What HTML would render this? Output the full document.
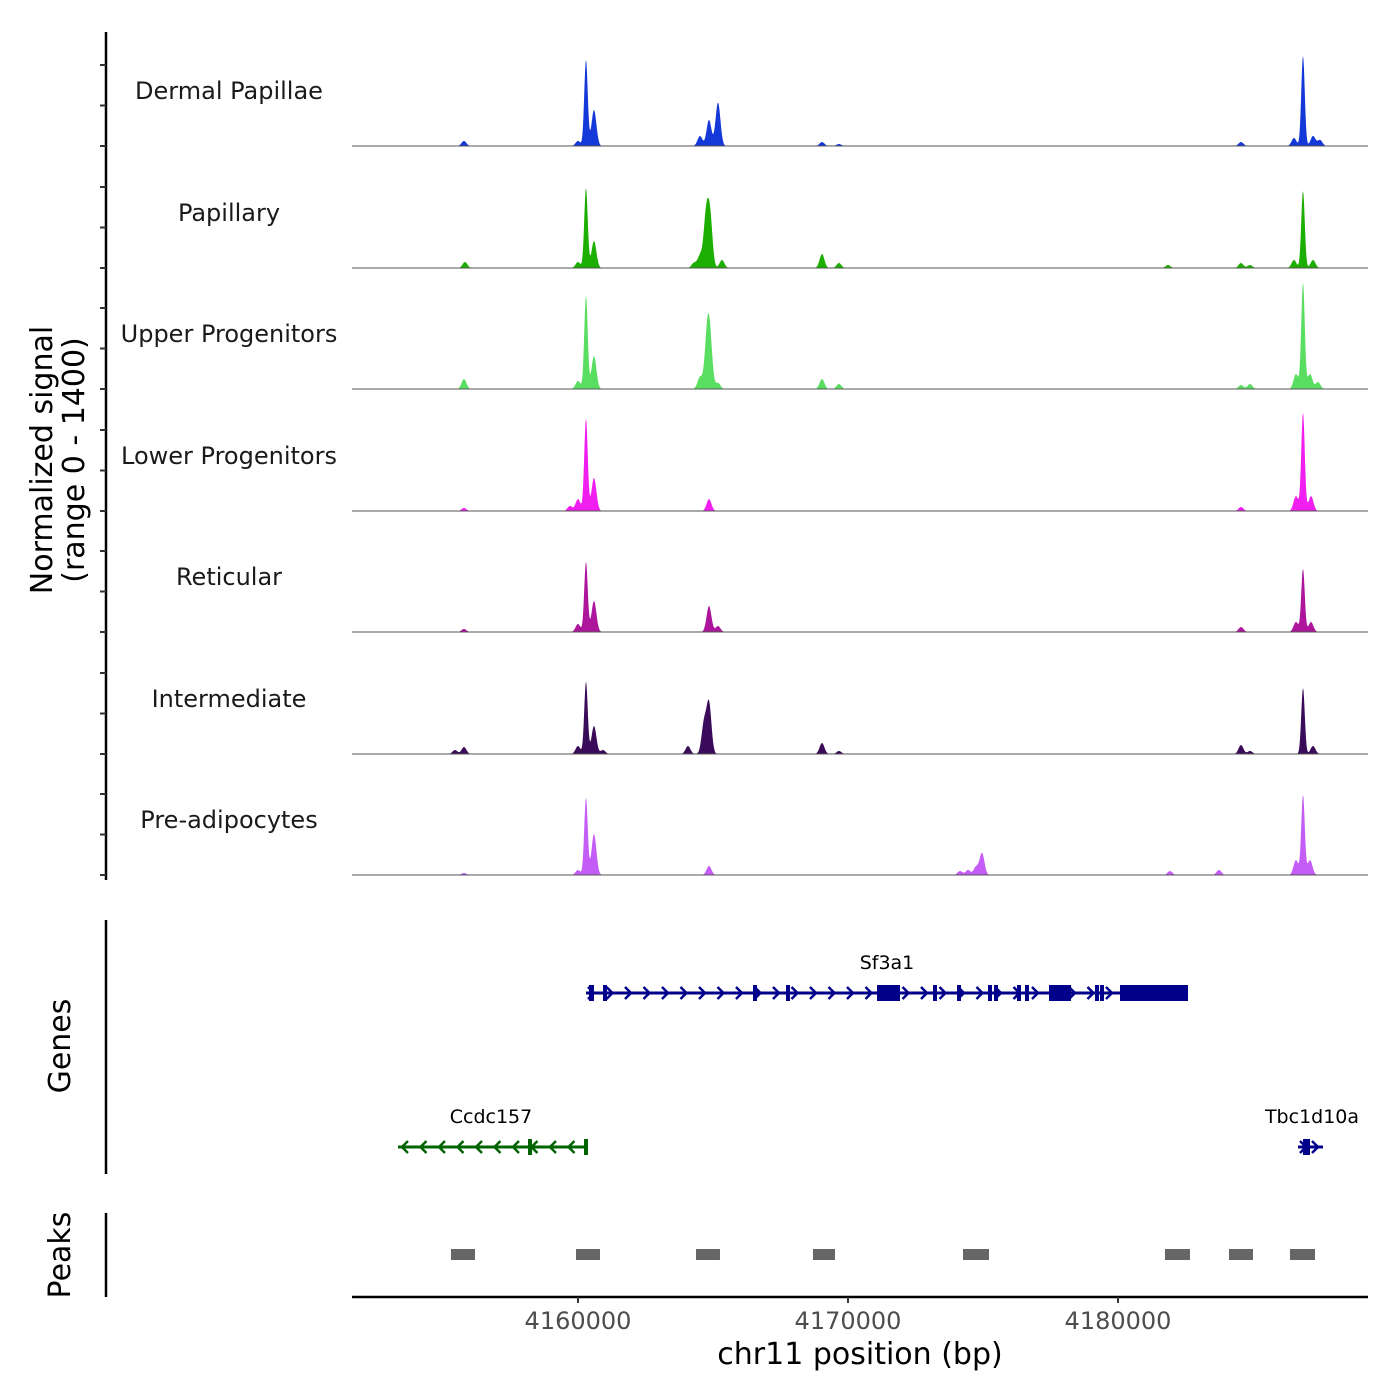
<!DOCTYPE html>
<html><head><meta charset="utf-8"><style>
html,body{margin:0;padding:0;background:#fff;}
svg{display:block;font-family:"DejaVu Sans","Liberation Sans",sans-serif;}
</style></head><body>
<svg id="c" width="1400" height="1400" xmlns="http://www.w3.org/2000/svg">
<g id="tracks"></g>
<g id="genes"></g>
<g id="peaks"></g>
<g id="axes"></g>
<text x="0" y="0" transform="translate(52,460) rotate(-90)" text-anchor="middle" font-size="30" fill="#000">Normalized signal</text>
<text x="0" y="0" transform="translate(84,460) rotate(-90)" text-anchor="middle" font-size="30" fill="#000">(range 0 - 1400)</text>
<text x="0" y="0" transform="translate(70,1046) rotate(-90)" text-anchor="middle" font-size="30" fill="#000">Genes</text>
<text x="0" y="0" transform="translate(70,1255) rotate(-90)" text-anchor="middle" font-size="30" fill="#000">Peaks</text>
<text x="860" y="1364" text-anchor="middle" font-size="30" fill="#000">chr11 position (bp)</text>
</svg>
<script>
// ---- data ----
const trackNames = ["Dermal Papillae","Papillary","Upper Progenitors","Lower Progenitors","Reticular","Intermediate","Pre-adipocytes"];
const trackColors = ["#1538d8","#1cae00","#5ade62","#f11ef0","#ad169c","#3a0b58","#c45cf6"];
const peakPos = [
 [4155777,4160000,4160296,4160592,4164518,4164852,4165185,4169037,4169666,4184555,4186518,4186852,4187222,4187481],
 [4155814,4160000,4160296,4160592,4164296,4164518,4164740,4164889,4165333,4169037,4169666,4181852,4184555,4184889,4186518,4186852,4187222],
 [4155777,4160000,4160296,4160592,4164518,4164777,4164889,4165185,4169037,4169666,4184555,4184889,4186592,4186852,4187111,4187407],
 [4155777,4159703,4160000,4160296,4160592,4164852,4184555,4186592,4186852,4187148],
 [4155777,4160000,4160296,4160592,4164852,4165185,4184555,4186592,4186852,4187148],
 [4155444,4155777,4160000,4160296,4160592,4160926,4164074,4164666,4164852,4169037,4169666,4184555,4184889,4186852,4187222],
 [4155777,4160000,4160296,4160592,4164852,4174148,4174444,4174740,4174963,4181926,4183740,4186592,4186852,4187111]
];
const peakVal = [
 [58,58,990,415,115,300,500,46,23,46,92,1037,115,69],
 [69,69,920,310,58,138,560,580,92,160,58,35,58,35,92,887,92],
 [115,92,1070,380,138,540,520,69,115,58,46,58,172,1220,172,80],
 [35,58,138,1060,380,138,46,172,1130,172],
 [35,92,806,357,300,69,58,115,726,115],
 [46,80,92,830,322,46,92,345,580,127,35,104,35,760,92],
 [23,58,887,472,104,46,58,92,253,46,58,172,920,172]
];
const geneSf3a1 = [4160296,4182592];
const sf3a1Exons = [[4160407,4160592],[4160926,4161074],[4166481,4166629],[4167703,4167851],[4171074,4171926],[4173148,4173296],[4174037,4174185],[4175185,4175333],[4175407,4175555],[4176259,4176407],[4176555,4176703],[4177444,4178259],[4179148,4179296],[4179333,4179481],[4180074,4182592]];
const geneCcdc157 = [4153333,4160296];
const ccdcExons = [[4158148,4158296],[4160222,4160370]];
const geneTbc = [4186666,4187592];
const tbcExons = [[4186852,4187111]];
const peakRegions = [[4155295,4156185],[4159926,4160815],[4164370,4165259],[4168703,4169518],[4174259,4175222],[4181740,4182666],[4184111,4185000],[4186370,4187296]];
const xTicks = [4160000,4170000,4180000];
const yMax = 1400;

// ---- scales ----
const X0=352, X1=1368, BP0=4151630, BP1=4189259;
const xs = bp => X0 + (bp-BP0)/(BP1-BP0)*(X1-X0);
const baselines = [146,268,389,511,632,754,875];
const TH = 121.5;
const ys = (i,v) => baselines[i] - v/yMax*TH;
const NS="http://www.w3.org/2000/svg";
function mk(tag, attrs, parent){const e=document.createElementNS(NS,tag);for(const k in attrs)e.setAttribute(k,attrs[k]);parent.appendChild(e);return e;}

const tg=document.getElementById('tracks');
trackNames.forEach((name,i)=>{
  const g=mk('g',{},tg);
  
  
  let d='M'+X0+','+baselines[i];
  for(let x=X0;x<=1325;x+=0.5){
    const bp=BP0+(x-X0)/(X1-X0)*(BP1-BP0);
    let v=0;
    peakPos[i].forEach((p,k)=>{const w=peakVal[i][k]>700?65:90;v+=peakVal[i][k]*Math.exp(-0.5*((bp-p)/w)**2);});
    d+=' L'+x.toFixed(1)+','+ys(i,v).toFixed(2);
  }
  d+=' L1325,'+baselines[i]+' Z';
  const a=mk('path',{d:d,fill:trackColors[i],stroke:'none'},g);
  
  
  const l=mk('line',{x1:X0,x2:X1,y1:baselines[i],y2:baselines[i],stroke:'#555','stroke-width':1},g);
  
  
  const t=mk('text',{x:229,y:baselines[i]-47,'text-anchor':'middle','font-size':24,fill:'#1a1a1a'},g);
  t.textContent=name;
  
  
});

// genes
const gg=document.getElementById('genes');
function drawGene(name,span,exons,y,color,dir,labelX){
  const g=mk('g',{},gg);
  
  
  mk('line',{x1:xs(span[0]),x2:xs(span[1]),y1:y,y2:y,stroke:color,'stroke-width':3},g);
  const a=xs(span[0]),b=xs(span[1]);
  const step=(b-a)<60?12:18.5;
  for(let x=a+6;x<=b;x+=step){
    const s=dir>0?'M'+(x-4)+','+(y-6)+' L'+(x+2)+','+y+' L'+(x-4)+','+(y+6):'M'+(x+4)+','+(y-6)+' L'+(x-2)+','+y+' L'+(x+4)+','+(y+6);
    mk('path',{d:s,stroke:color,'stroke-width':2.5,fill:'none'},g);
  }
  exons.forEach(e=>{const r=mk('rect',{x:xs(e[0]),y:y-8,width:Math.max(3,xs(e[1])-xs(e[0])),height:16,fill:color},g);
    
    });
  const t=mk('text',{x:labelX,y:y-24,'text-anchor':'middle','font-size':19,fill:'#000'},g);
  t.textContent=name;
  
  
}
drawGene('Sf3a1',geneSf3a1,sf3a1Exons,993,'#00008b',1,887);
drawGene('Ccdc157',geneCcdc157,ccdcExons,1147,'#006400',-1,491);
drawGene('Tbc1d10a',geneTbc,tbcExons,1147,'#00008b',1,1312);

// peaks
const pg=document.getElementById('peaks');
peakRegions.forEach(p=>{const r=mk('rect',{x:xs(p[0]),y:1249,width:xs(p[1])-xs(p[0]),height:11,fill:'#666'},pg);
  
  });

// axes
const ag=document.getElementById('axes');
function ln(x1,y1,x2,y2,w,c,name){const l=mk('line',{x1,y1,x2,y2,stroke:c,'stroke-width':w},ag);
  
  }
ln(106,32,106,880,2.5,'#000','signal-y-axis');
baselines.forEach(b=>{for(let k=0;k<3;k++){const y=b-k*40.5; ln(100,y,106,y,2,'#333','y-tick');}});
ln(106,920,106,1174,2.5,'#000','genes-y-axis');
ln(106,1213,106,1297,2.5,'#000','peaks-y-axis');
ln(352,1297,1368,1297,2.5,'#000','x-axis-line');
xTicks.forEach(v=>{ln(xs(v),1297,xs(v),1303,2,'#333','x-tick');
  const t=mk('text',{x:xs(v),y:1329,'text-anchor':'middle','font-size':24,fill:'#4d4d4d'},ag);
  t.textContent=v;
  
  });
</script>
</body></html>
